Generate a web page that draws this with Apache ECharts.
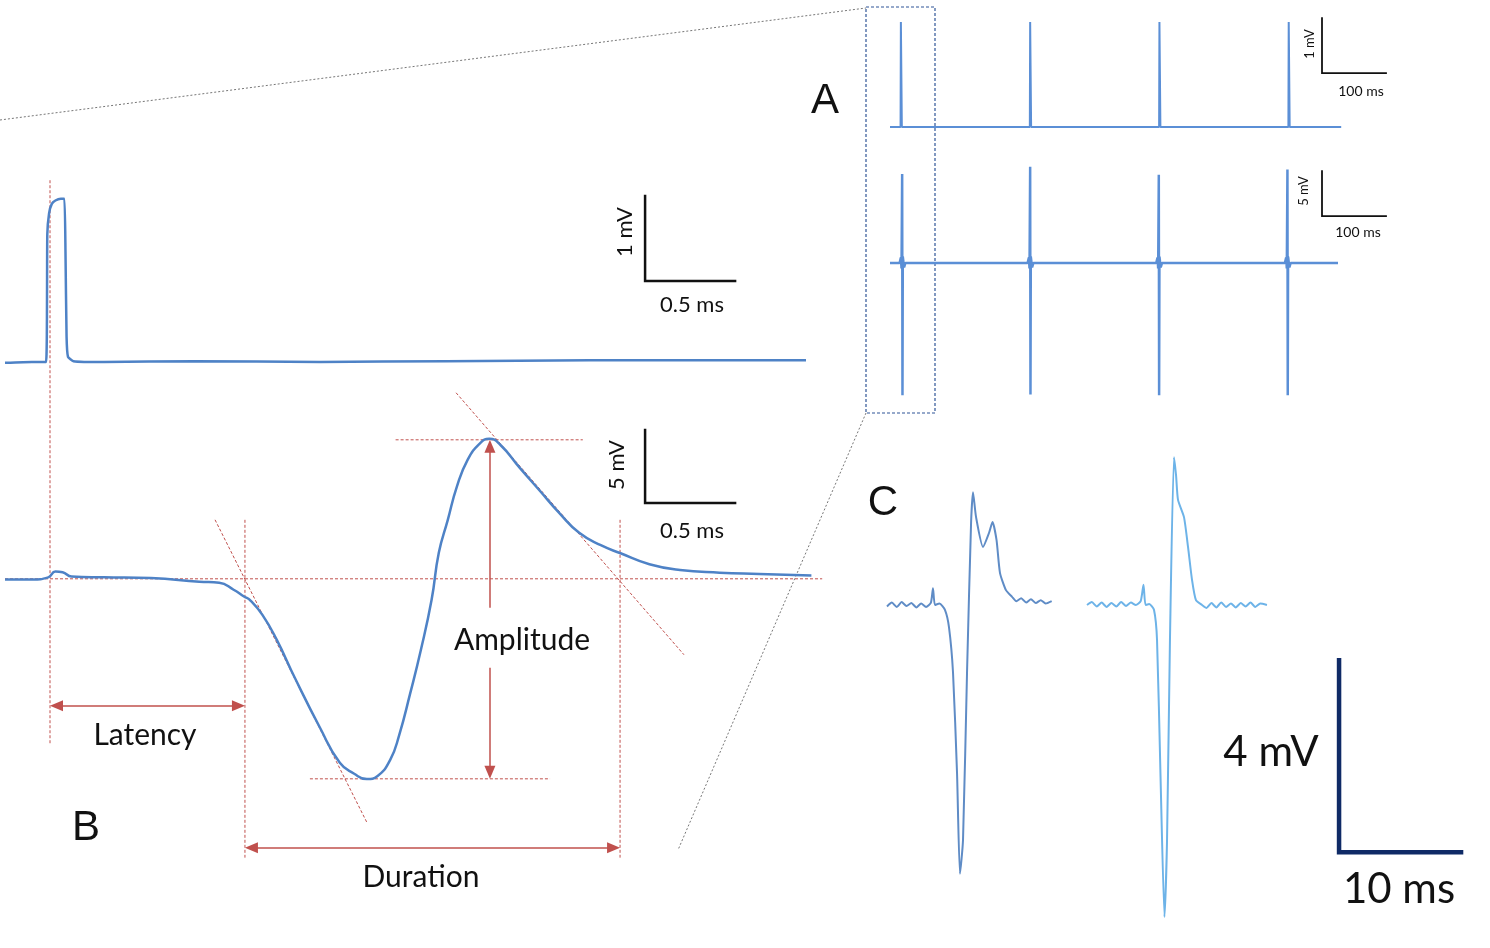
<!DOCTYPE html>
<html>
<head>
<meta charset="utf-8">
<script src="https://cdn.jsdelivr.net/npm/echarts@6/dist/echarts.min.js"></script>
<style>
  html, body { margin: 0; padding: 0; background: #fff; }
  #chart { width: 1490px; height: 948px; }
</style>
</head>
<body>
<div id="chart"></div>
<script>
// B: stimulus trace (ms, mV)
const stimMs = [-0.25, -0.1, -0.022, -0.015, -0.005, 0.01, 0.03, 0.06, 0.08, 0.086, 0.092, 0.1, 0.13, 0.3, 0.8, 1.5, 2.2, 3.0, 3.6, 4.2];
const stimMv = [-0.01, 0, 0, 1.5, 1.75, 1.86, 1.9, 1.92, 1.92, 1.3, 0.3, 0.06, 0.01, 0, 0.01, 0, 0.01, 0.02, 0.02, 0.02];

// B: evoked response (ms, mV)
const respMs = [-0.25, -0.1, -0.01, 0.03, 0.07, 0.12, 0.3, 0.56, 0.83, 0.94, 1.02, 1.08, 1.11, 1.18, 1.26, 1.36, 1.5, 1.61, 1.69, 1.76, 1.82, 1.89, 1.94, 2.0, 2.06, 2.12, 2.16, 2.21, 2.26, 2.32, 2.39, 2.44, 2.5, 2.61, 2.72, 2.83, 2.94, 3.06, 3.17, 3.33, 3.5, 3.72, 3.94, 4.23];
const respMv = [-0.05, -0.05, 0.1, 0.5, 0.45, 0.15, 0.1, 0.05, -0.2, -0.27, -0.75, -1.23, -1.44, -2.47, -4.18, -6.78, -10.2, -12.6, -13.35, -13.72, -13.5, -12.4, -10.7, -7.9, -4.9, -1.44, 1.78, 4.04, 6.3, 8.15, 9.3, 9.6, 9.2, 7.6, 6.05, 4.5, 3.15, 2.3, 1.75, 1.0, 0.6, 0.42, 0.33, 0.22];

// B: measurement guides (ms, mV)
const stimOnsetLine = [[0, 27.3], [0, -11.4]];
const latencyEndLine = [[1.083, 4.04], [1.083, -19.1]];
const durationEndLine = [[3.167, 4.04], [3.167, -19.1]];
const baselineLine = [[-0.25, 0], [4.29, 0]];
const peakLine = [[1.92, 9.52], [2.96, 9.52]];
const troughLine = [[1.444, -13.7], [2.778, -13.7]];
const fallTangent = [[0.917, 4.04], [1.761, -16.7]];
const decayTangent = [[2.256, 12.74], [3.522, -5.2]];
const latencyArrow = [[0, -8.7], [1.083, -8.7]];
const durationArrow = [[1.083, -18.42], [3.167, -18.42]];
const amplitudeUp = [[2.444, -1.99], [2.444, 9.52]];
const amplitudeDown = [[2.444, -6.1], [2.444, -13.7]];

// A: spike trains (ms, mV)
const a1SpikeMs = [17, 219, 421, 623];
const a1PeakMv = [1.91, 1.91, 1.91, 1.91];
const a1EndMs = 705;
const a2SpikeMs = [19, 219, 420, 621];
const a2PeakMv = [9.9, 10.7, 9.8, 10.4];
const a2TroughMv = [-14.7, -14.6, -14.7, -14.7];
const a2EndMs = 700;

// C: two single responses (ms, mV)
const c1Ms = [0, 0.4, 0.8, 1.2, 1.6, 2.0, 2.4, 2.8, 3.2, 3.6, 3.77, 3.93, 4.3, 4.75, 5.08, 5.41, 5.74, 5.98, 6.23, 6.56, 6.89, 7.05, 7.3, 7.87, 8.36, 8.65, 8.98, 9.26, 9.75, 10.25, 10.6, 11.0, 11.4, 11.8, 12.2, 12.6, 13.0, 13.5];
const c1Mv = [-0.03, 0.05, -0.04, 0.06, -0.02, 0.04, -0.05, 0.03, -0.04, 0.05, 0.35, 0.0, 0.03, -0.1, -0.46, -1.4, -3.5, -5.6, -4.9, -1.4, 1.7, 2.35, 1.83, 1.21, 1.5, 1.73, 1.35, 0.67, 0.31, 0.17, 0.08, 0.14, 0.05, 0.12, 0.04, 0.1, 0.03, 0.08];
const c2Ms = [0, 0.4, 0.8, 1.2, 1.6, 2.0, 2.4, 2.8, 3.2, 3.6, 4.0, 4.4, 4.63, 4.8, 5.1, 5.49, 5.74, 6.02, 6.35, 6.56, 6.8, 7.13, 7.3, 7.46, 7.95, 8.28, 8.61, 8.93, 9.43, 9.8, 10.2, 10.6, 11.0, 11.4, 11.8, 12.2, 12.6, 13.0, 13.4, 13.8, 14.2, 14.75];
const c2Mv = [0, 0.06, -0.03, 0.05, -0.04, 0.04, -0.03, 0.06, -0.02, 0.05, 0.0, 0.08, 0.42, 0.0, 0.02, -0.1, -0.73, -3.5, -6.5, -4.9, -0.73, 3.08, 2.7, 2.19, 1.83, 1.21, 0.52, 0.1, 0.0, -0.06, 0.04, -0.05, 0.05, -0.04, 0.03, -0.05, 0.04, -0.03, 0.05, -0.04, 0.03, 0.0];

// scale bars: [x0, y0 (corner), dx, dy]
const scaleBStim = [3.306, 0.953, 0.5, 1];
const scaleBResp = [3.306, 5.2, 0.5, 5];
const scaleA1 = [675, 0.98, 100, 1];
const scaleA2 = [675, 5.2, 100, 5];
const scaleC = [20.66, -5.15, 10, 4];

const zip = (xs, ys) => xs.map((x, i) => [x, ys[i]]);

function a1Data() {
  const d = [[0, 0]];
  a1SpikeMs.forEach((t, i) => {
    d.push([t - 0.5, 0], [t, a1PeakMv[i]], [t + 1, a1PeakMv[i]], [t + 1.5, 0]);
  });
  d.push([a1EndMs, 0]);
  return d;
}

function a2Data() {
  const d = [[0, 0]];
  a2SpikeMs.forEach((t, i) => {
    d.push([t - 4, 0], [t - 2, 0.6], [t - 1, -0.6], [t, a2PeakMv[i]], [t + 0.5, a2TroughMv[i]], [t + 1, 0.7], [t + 3, -0.5], [t + 5, 0]);
  });
  d.push([a2EndMs, 0]);
  return d;
}

const chart = echarts.init(document.getElementById('chart'), null, { renderer: 'canvas' });

const RED = '#c0504d';
const BLUE = '#4e82c6';
const FONT = 'Lato, "Open Sans", sans-serif';

// response panel scale (grid 1): 828 px / 4.6 ms, 730 px / 50 mV
const PX_PER_MS = 828 / 4.6;
const PX_PER_MV = 730 / 50;
const ARROW_LEN = 13;

const hidden = { show: false };
function ax(gridIndex, min, max) {
  return { type: 'value', gridIndex, min, max, show: false, splitLine: hidden };
}

function trace(name, data, xi, color, width, smooth) {
  return {
    name, type: 'line', data, xAxisIndex: xi, yAxisIndex: xi,
    symbol: 'none', smooth: smooth || false,
    lineStyle: { color, width }, clip: false, silent: true
  };
}

function guide(data, xi) {
  return {
    type: 'line', data, xAxisIndex: xi, yAxisIndex: xi, symbol: 'none',
    lineStyle: { color: RED, width: 1, type: [3, 2] }, clip: false, silent: true, z: 1
  };
}

// pull an arrow end back by half the head so the tip lands on the point
function inset(from, to) {
  const dxPx = (to[0] - from[0]) * PX_PER_MS;
  const dyPx = (to[1] - from[1]) * PX_PER_MV;
  const len = Math.hypot(dxPx, dyPx);
  const k = (ARROW_LEN / 2) / len;
  return [to[0] - (dxPx * k) / PX_PER_MS, to[1] - (dyPx * k) / PX_PER_MV];
}

function arrow(seg, both) {
  const a = both ? inset(seg[1], seg[0]) : seg[0];
  const b = inset(seg[0], seg[1]);
  return {
    type: 'line', data: [], xAxisIndex: 1, yAxisIndex: 1, silent: true,
    markLine: {
      silent: true,
      symbol: both ? ['triangle', 'triangle'] : ['none', 'triangle'],
      symbolSize: [11, ARROW_LEN],
      label: { show: false },
      lineStyle: { color: RED, width: 1.5, type: 'solid' },
      itemStyle: { color: RED },
      data: [[{ coord: a }, { coord: b }]]
    }
  };
}

function scaleBar(s, xi, color, width) {
  const [x0, y0, dx, dy] = s;
  return {
    type: 'line', data: [[x0, y0 + dy], [x0, y0], [x0 + dx, y0]],
    xAxisIndex: xi, yAxisIndex: xi, symbol: 'none', clip: false, silent: true,
    lineStyle: { color, width, cap: 'square', join: 'miter' }
  };
}

function txt(text, x, y, size, opts) {
  return Object.assign({
    type: 'text', x, y, silent: true,
    style: {
      text, font: size + 'px ' + (opts && opts.family || FONT), fill: '#111',
      textAlign: 'center', textVerticalAlign: 'middle', align: 'center', verticalAlign: 'middle'
    }
  }, opts && opts.rotation ? { rotation: opts.rotation } : {});
}

const option = {
  animation: false,
  backgroundColor: '#fff',
  grid: [
    { left: 5, top: 175, width: 828, height: 204 },   // B stimulus
    { left: 5, top: 170, width: 828, height: 730 },   // B response
    { left: 890, top: 6, width: 499.2, height: 148.5 },  // A top
    { left: 890, top: 155, width: 499.2, height: 252 },  // A bottom
    { left: 887, top: 437, width: 170.8, height: 504 },  // C left
    { left: 1087, top: 437, width: 390.4, height: 504 }  // C right
  ],
  xAxis: [
    ax(0, -0.25, 4.35), ax(1, -0.25, 4.35), ax(2, 0, 780), ax(3, 0, 780), ax(4, 0, 14), ax(5, 0, 32)
  ],
  yAxis: [
    ax(0, -0.2, 2.2), ax(1, -22, 28), ax(2, -0.5, 2.2), ax(3, -16, 12), ax(4, -7, 3.5), ax(5, -7, 3.5)
  ],
  series: [
    guide(stimOnsetLine, 1),
    guide(latencyEndLine, 1),
    guide(durationEndLine, 1),
    guide(baselineLine, 1),
    guide(peakLine, 1),
    guide(troughLine, 1),
    guide(fallTangent, 1),
    guide(decayTangent, 1),
    trace('stimulus', zip(stimMs, stimMv), 0, BLUE, 2.5, 0.15),
    trace('response', zip(respMs, respMv), 1, BLUE, 2.5, 0.5),
    arrow(latencyArrow, true),
    arrow(durationArrow, true),
    arrow(amplitudeUp, false),
    arrow(amplitudeDown, false),
    scaleBar(scaleBStim, 0, '#111', 2.5),
    scaleBar(scaleBResp, 1, '#111', 2.5),
    trace('train stimulus', a1Data(), 2, '#5b8fd6', 2),
    trace('train response', a2Data(), 3, '#5b8fd6', 2.5),
    scaleBar(scaleA1, 2, '#111', 1.8),
    scaleBar(scaleA2, 3, '#111', 1.8),
    trace('response 1', zip(c1Ms, c1Mv), 4, '#5f8cc6', 2, 0.2),
    trace('response 2', zip(c2Ms, c2Mv), 5, '#6db3e8', 2, 0.2),
    scaleBar(scaleC, 5, '#0f2a66', 4.5)
  ],
  graphic: [
    // zoom connectors and selection box
    { type: 'line', silent: true, shape: { x1: 0, y1: 120, x2: 866, y2: 8 }, style: { stroke: '#777', lineWidth: 1, lineDash: [2, 2] } },
    { type: 'line', silent: true, shape: { x1: 866, y1: 413, x2: 678, y2: 850 }, style: { stroke: '#777', lineWidth: 1, lineDash: [2, 2] } },
    { type: 'rect', silent: true, shape: { x: 866, y: 7, width: 69, height: 406 }, style: { fill: 'none', stroke: '#2f5597', lineWidth: 1.2, lineDash: [3, 2] } },
    // panel letters
    txt('A', 825, 101, 42, { family: '"Liberation Sans", Arial, sans-serif' }),
    txt('B', 86, 828, 42, { family: '"Liberation Sans", Arial, sans-serif' }),
    txt('C', 883, 503, 42, { family: '"Liberation Sans", Arial, sans-serif' }),
    // B labels
    txt('1 mV', 625, 232, 22, { rotation: Math.PI / 2 }),
    txt('0.5 ms', 692, 305, 22),
    txt('5 mV', 617, 465, 22, { rotation: Math.PI / 2 }),
    txt('0.5 ms', 692, 531, 22),
    txt('Latency', 145, 735, 30),
    txt('Duration', 421, 877, 30),
    txt('Amplitude', 522, 640, 30),
    // A labels
    txt('1 mV', 1310, 44, 13, { rotation: Math.PI / 2 }),
    txt('100 ms', 1361, 91, 14),
    txt('5 mV', 1304, 191, 13, { rotation: Math.PI / 2 }),
    txt('100 ms', 1358, 232, 14),
    // C labels
    txt('4 mV', 1271, 752, 42),
    txt('10 ms', 1399, 889, 42)
  ]
};

chart.setOption(option);
window.addEventListener('resize', () => chart.resize());
</script>
</body>
</html>
